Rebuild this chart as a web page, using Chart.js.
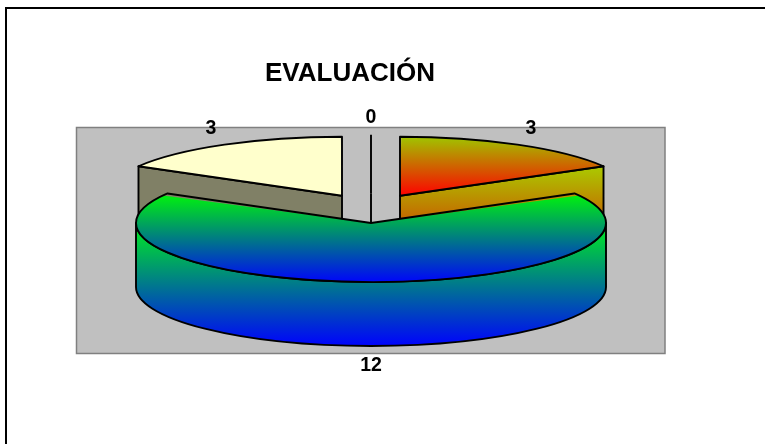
<!DOCTYPE html>
<html>
<head>
<meta charset="utf-8">
<style>html,body{margin:0;padding:0;background:#fff}canvas{display:block}</style>
<script src="https://cdn.jsdelivr.net/npm/chart.js@4"></script>
</head>
<body>
<canvas id="c" width="765" height="444"></canvas>
<script>
const titleText = 'EVALUACIÓN';
const sliceLabels = ['0', '3', '12', '3'];
const sliceValues = [0, 3, 12, 3];

const FONT = '"Liberation Sans", Arial, sans-serif';
const tx = 371, ty = 208.4, squash = 0.2511, depth = 64;
const pieRadius = 235, labelRadius = 320, sliceOffset = 232, edgeWidth = 1.9;

// y-range + colours of the top faces and the wall faces, one per slice
const topPaint = [
  null,
  {y0: 137, y1: 196, c0: 'rgb(160,196,0)', c1: 'rgb(255,0,0)'},
  {y0: 190, y1: 284, c0: 'rgb(0,255,0)', c1: 'rgb(0,0,255)'},
  {solid: '#ffffcc'}
];
const wallPaint = [
  null,
  {y0: 165, y1: 275, c0: 'rgb(170,205,0)', c1: 'rgb(225,0,0)'},
  {y0: 224, y1: 347, c0: 'rgb(0,238,30)', c1: 'rgb(0,0,255)'},
  {solid: '#808066'}
];

function screenGradient(ctx, p) {
  const g = ctx.createLinearGradient(0, p.y0, 0, p.y1);
  g.addColorStop(0, p.c0); g.addColorStop(1, p.c1);
  return g;
}
function midAngle(i) {
  const total = sliceValues.reduce((a, b) => a + b, 0);
  const before = sliceValues.slice(0, i).reduce((a, b) => a + b, 0);
  return -Math.PI / 2 + 2 * Math.PI * (before + sliceValues[i] / 2) / total;
}
function topColor(context) {
  const chart = context.chart, i = context.dataIndex, p = topPaint[i], a = chart.chartArea;
  if (!p) return 'rgba(0,0,0,0)';
  if (p.solid) return p.solid;
  if (!a) return p.c0;
  const cy = (a.top + a.bottom) / 2;
  // the arc fills inside a flatten + offset transform; the gradient has to be given in that space
  const shift = Math.sin(midAngle(i)) * sliceOffset / 4;
  const toPie = Y => cy + (Y - ty) / squash - shift;
  return screenGradient(chart.ctx, {y0: toPie(p.y0), y1: toPie(p.y1), c0: p.c0, c1: p.c1});
}

function geom(el) {
  const off = el.options.offset / 4, mid = (el.startAngle + el.endAngle) / 2;
  const r = pieRadius;
  return {
    ax: tx + Math.cos(mid) * off,
    ay: ty + Math.sin(mid) * off * squash,
    r, ry: r * squash, mid, s: el.startAngle, e: el.endAngle
  };
}

const pie3d = {
  id: 'pie3d',
  afterDatasetsUpdate(chart) {
    // the arc element grows its radius with its offset; cancel that so all slices share one radius
    chart.getDatasetMeta(0).data.forEach(el => {
      const fix = 1 - Math.sin(Math.min(Math.PI, el.circumference || 0));
      el.outerRadius = pieRadius - (el.options.offset / 4) * fix;
    });
  },
  beforeDraw(chart) {
    const c = chart.ctx;
    c.save();
    c.fillStyle = '#fff'; c.fillRect(0, 0, 765, 444);
    c.fillStyle = '#000';
    c.fillRect(5, 7, 2, 437); c.fillRect(5, 7, 760, 2);
    c.fillStyle = '#c0c0c0'; c.strokeStyle = '#808080'; c.lineWidth = 1.5;
    c.beginPath(); c.rect(76.5, 127.5, 588.5, 226); c.fill(); c.stroke();
    c.restore();
  },
  beforeDatasetsDraw(chart) {
    const c = chart.ctx, arcs = chart.getDatasetMeta(0).data;
    c.save();
    c.lineWidth = edgeWidth; c.strokeStyle = '#000'; c.lineJoin = 'round';
    arcs.forEach((el, i) => {
      const g = geom(el), paint = wallPaint[i];
      if (el.circumference === 0) {            // zero slice: only an edge remains
        c.beginPath(); c.moveTo(g.ax, g.ay); c.lineTo(g.ax, g.ay + depth); c.stroke();
        return;
      }
      c.fillStyle = paint.solid || screenGradient(c, paint);
      c.beginPath();
      if (Math.sin(g.mid) > 0.5) {             // front slice: curved wall
        c.ellipse(g.ax, g.ay, g.r, g.ry, 0, 0, Math.PI, false);
        c.lineTo(g.ax - g.r, g.ay + depth);
        c.ellipse(g.ax, g.ay + depth, g.r, g.ry, 0, Math.PI, 0, true);
      } else {                                 // back slice: flat cut face
        const a = Math.cos(g.mid) > 0 ? g.e : g.s;
        const ox = g.ax + Math.cos(a) * g.r, oy = g.ay + Math.sin(a) * g.ry;
        c.moveTo(ox, oy); c.lineTo(g.ax, g.ay);
        c.lineTo(g.ax, g.ay + depth); c.lineTo(ox, oy + depth);
      }
      c.closePath(); c.fill(); c.stroke();
    });
    c.restore();
    // flatten the library's own arcs
    const cx = arcs[0].x, cy = arcs[0].y;
    c.save();
    c.translate(tx, ty); c.scale(1, squash); c.translate(-cx, -cy);
  },
  afterDatasetsDraw(chart) {
    const c = chart.ctx, arcs = chart.getDatasetMeta(0).data;
    c.restore();
    c.save();
    c.lineWidth = edgeWidth; c.strokeStyle = '#000'; c.lineJoin = 'round';
    arcs.forEach(el => {
      const g = geom(el);
      c.beginPath();
      c.moveTo(g.ax, g.ay);
      if (el.circumference === 0) {
        c.lineTo(g.ax + Math.cos(g.s) * g.r, g.ay + Math.sin(g.s) * g.ry);
      } else {
        c.ellipse(g.ax, g.ay, g.r, g.ry, 0, g.s, g.e, false);
        c.closePath();
      }
      c.stroke();
    });
    c.fillStyle = '#000';
    c.font = 'bold 19.5px ' + FONT;
    c.textAlign = 'center'; c.textBaseline = 'middle';
    const vals = chart.data.datasets[0].data;
    arcs.forEach((el, i) => {
      const mid = (el.startAngle + el.endAngle) / 2;
      const x = tx + Math.cos(mid) * labelRadius;
      const back = Math.sin(mid) < 0;
      const y = ty + Math.sin(mid) * labelRadius * squash + (back ? -10 : depth + 12.5);
      c.fillText(String(vals[i]), x, y);
    });
    c.restore();
  }
};

new Chart(document.getElementById('c'), {
  type: 'pie',
  data: {
    labels: sliceLabels,
    datasets: [{
      data: sliceValues,
      backgroundColor: topColor,
      borderWidth: 0,
      offset: sliceOffset,
      hoverOffset: 0,
      clip: false
    }]
  },
  options: {
    responsive: false,
    animation: false,
    events: [],
    radius: pieRadius,
    layout: {padding: {right: 65}},
    plugins: {
      legend: {display: false},
      tooltip: {enabled: false},
      title: {
        display: true,
        text: titleText,
        color: '#000',
        font: {family: FONT, size: 26, weight: 'bold'},
        padding: {top: 58, bottom: 10}
      }
    }
  },
  plugins: [pie3d]
});
</script>
</body>
</html>
